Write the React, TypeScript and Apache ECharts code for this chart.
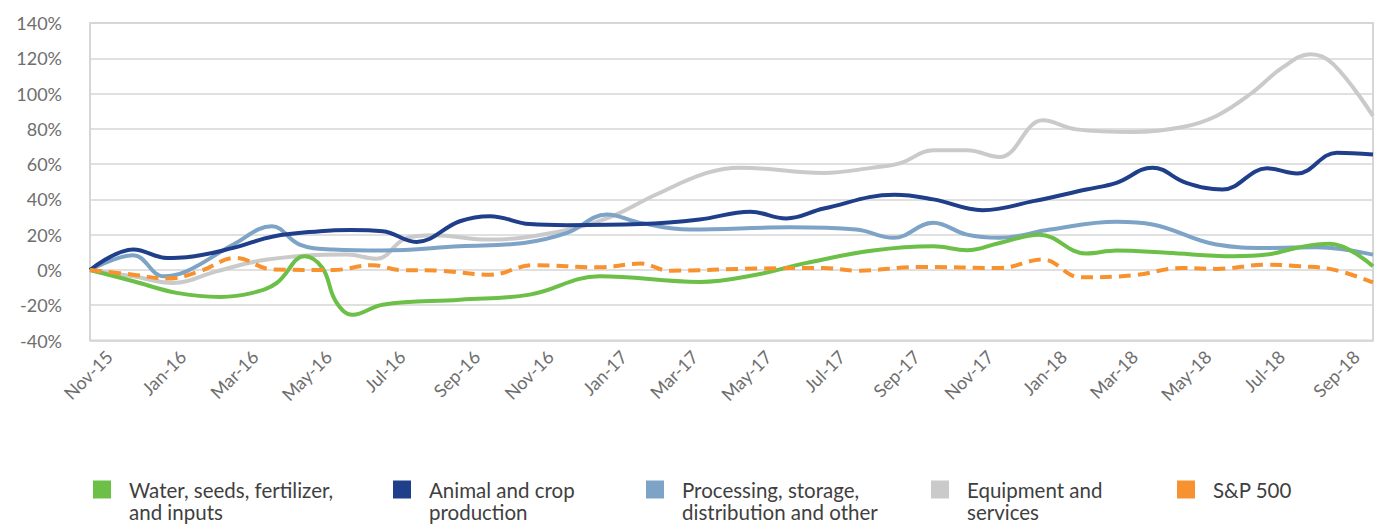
import React, { useEffect, useRef } from "react";
import * as echarts from "echarts";

// Cumulative return (%) of agriculture-related stock groups vs the S&P 500
const waterSeeds: [string, number][] = [
  ["2015-10-16", 0], ["2015-11-21", -6.4], ["2015-12-27", -13], ["2016-02-01", -15.3],
  ["2016-02-28", -13], ["2016-03-19", -7.4], ["2016-04-11", 7.8], ["2016-04-26", 1.1],
  ["2016-05-07", -17.8], ["2016-05-21", -25.4], ["2016-06-15", -19.7], ["2016-08-18", -16.9],
  ["2016-10-15", -14], ["2016-12-12", -3.6], ["2017-03-05", -6.8], ["2017-04-21", -2.7],
  ["2017-06-02", 4], ["2017-07-27", 11], ["2017-09-15", 13.4], ["2017-10-13", 11.2],
  ["2017-11-09", 15.3], ["2017-12-12", 20], ["2018-01-20", 9.3], ["2018-02-14", 11],
  ["2018-03-28", 9.7], ["2018-05-22", 7.8], ["2018-06-19", 8.7], ["2018-07-16", 12.9],
  ["2018-08-10", 14.8], ["2018-09-15", 2.1],
];

const animalCrop: [string, number][] = [
  ["2015-10-16", 0], ["2015-11-21", 11.6], ["2015-12-19", 6.8], ["2016-01-04", 7.2],
  ["2016-02-12", 12.5], ["2016-03-16", 19], ["2016-04-24", 22], ["2016-05-19", 22.7],
  ["2016-06-15", 22], ["2016-07-13", 15.9], ["2016-08-18", 27.6], ["2016-09-12", 30.5],
  ["2016-10-15", 26], ["2016-11-15", 25.4], ["2017-01-15", 26], ["2017-03-05", 28.6],
  ["2017-04-16", 33], ["2017-05-16", 29.2], ["2017-06-16", 34.8], ["2017-08-14", 42.6],
  ["2017-09-15", 40], ["2017-10-26", 33.9], ["2017-12-07", 39], ["2018-01-20", 45.6],
  ["2018-02-14", 49.4], ["2018-03-16", 58], ["2018-04-13", 49.4], ["2018-05-13", 45.6],
  ["2018-06-19", 57.6], ["2018-07-14", 54.7], ["2018-08-16", 66.5], ["2018-09-15", 65.5],
];

const processing: [string, number][] = [
  ["2015-10-16", 0], ["2015-11-21", 8.3], ["2015-12-16", -3.6], ["2016-01-04", -0.8],
  ["2016-02-12", 14.4], ["2016-03-15", 24.8], ["2016-04-07", 14.4], ["2016-05-05", 11.6],
  ["2016-06-15", 11], ["2016-08-18", 13.4], ["2016-10-10", 15.3], ["2016-11-15", 21],
  ["2016-12-18", 31.4], ["2017-01-15", 26.7], ["2017-02-25", 22.9], ["2017-05-19", 24.2],
  ["2017-07-13", 22.9], ["2017-08-13", 18.2], ["2017-09-15", 26.7], ["2017-10-13", 20],
  ["2017-11-09", 18.2], ["2017-12-21", 22.9], ["2018-02-14", 27.3], ["2018-03-16", 25.8],
  ["2018-05-08", 14.4], ["2018-06-19", 12.5], ["2018-07-30", 12.9], ["2018-09-15", 8.7],
];

const equipment: [string, number][] = [
  ["2015-10-16", 0], ["2015-11-21", -3.6], ["2015-12-24", -7.4], ["2016-01-29", -0.8],
  ["2016-03-11", 5.9], ["2016-05-16", 8.7], ["2016-06-10", 6.3], ["2016-07-05", 18.2],
  ["2016-07-27", 19.7], ["2016-09-12", 17.2], ["2016-11-06", 21.4], ["2016-12-18", 29.2],
  ["2017-01-28", 42.8], ["2017-03-11", 55], ["2017-04-08", 58], ["2017-06-16", 55],
  ["2017-07-27", 58], ["2017-08-18", 60.4], ["2017-09-15", 67.8], ["2017-10-13", 67.8],
  ["2017-11-09", 64], ["2017-12-15", 84.8], ["2018-01-12", 79.7], ["2018-02-28", 78.2],
  ["2018-04-10", 81], ["2018-05-08", 87.3], ["2018-06-05", 99.6], ["2018-07-02", 114.8],
  ["2018-07-25", 122.3], ["2018-08-13", 116.7], ["2018-09-15", 87.3],
];

const sp500: [string, number][] = [
  ["2015-10-16", 0], ["2015-11-21", -2.7], ["2015-12-19", -4.9], ["2016-01-15", -0.8],
  ["2016-02-14", 6.8], ["2016-03-16", 0.2], ["2016-05-05", 0], ["2016-06-07", 2.7],
  ["2016-06-29", 0], ["2016-08-01", -0.4], ["2016-09-12", -2.7], ["2016-10-18", 2.7],
  ["2016-12-12", 1.5], ["2017-01-15", 3.6], ["2017-02-08", -0.4], ["2017-04-21", 0.8],
  ["2017-06-16", 1.1], ["2017-07-13", -0.4], ["2017-09-04", 1.7], ["2017-11-09", 1.1],
  ["2017-12-15", 5.9], ["2018-01-15", -4.2], ["2018-02-28", -3], ["2018-04-10", 1.1],
  ["2018-05-08", 0.6], ["2018-06-19", 3], ["2018-07-16", 2.1], ["2018-08-13", 0.2],
  ["2018-09-15", -7],
];

// Date range of the x axis and its bi-monthly labelled dates
const xStart = "2015-10-16";
const xEnd = "2018-09-15";
const xTickDates: string[] = [
  "2015-11-01", "2016-01-01", "2016-03-01", "2016-05-01", "2016-07-01", "2016-09-01",
  "2016-11-01", "2017-01-01", "2017-03-01", "2017-05-01", "2017-07-01", "2017-09-01",
  "2017-11-01", "2018-01-01", "2018-03-01", "2018-05-01", "2018-07-01", "2018-09-01",
];
const monthNames = ["Jan", "Feb", "Mar", "Apr", "May", "Jun", "Jul", "Aug", "Sep", "Oct", "Nov", "Dec"];

const seriesNames = [
  "Water, seeds, fertilizer,\nand inputs",
  "Animal and crop\nproduction",
  "Processing, storage,\ndistribution and other",
  "Equipment and\nservices",
  "S&P 500",
];
const seriesColors = ["#6cbf47", "#1f3f8a", "#7da3c7", "#cacaca", "#f7922e"];
const legendLeft = [93, 393, 646, 931, 1177];

const FONT = "Lato";
const LEGEND_LINE = 22.5;
const LEGEND_ICON = 18;
const LEGEND_ICON_TOP = 480.5;

const toTime = (s: string) => Date.parse(s + "T00:00:00Z");

export default function App() {
  const ref = useRef<HTMLDivElement>(null);

  useEffect(() => {
    if (!ref.current) return;
    const chart = echarts.init(ref.current, null, { renderer: "svg" });

    const values = [waterSeeds, animalCrop, processing, equipment, sp500];
    // draw order: equipment underneath, S&P 500 on top
    const drawOrder = [3, 2, 1, 0, 4];

    const series = drawOrder.map((i, k) => ({
      name: seriesNames[i],
      type: "line",
      data: values[i].map(([d, v]) => [toTime(d), v]),
      smooth: 0.4,
      showSymbol: false,
      symbol: "none",
      color: seriesColors[i],
      lineStyle: {
        width: 4,
        color: seriesColors[i],
        type: i === 4 ? [12, 7] : "solid",
        cap: "butt",
      },
      z: 2 + k,
    }));

    // one legend per item so each swatch sits in its own column;
    // two-line labels get an empty leading line so their first line is
    // vertically centred on the swatch
    const legends = seriesNames.map((name, i) => {
      const twoLines = name.includes("\n");
      const blockLines = twoLines ? 3 : 1;
      const overhang = (blockLines * LEGEND_LINE) / 2 - LEGEND_ICON / 2;
      return {
        data: [name],
        left: legendLeft[i],
        top: LEGEND_ICON_TOP - overhang,
        padding: 0,
        icon: "rect",
        itemWidth: LEGEND_ICON,
        itemHeight: LEGEND_ICON,
        selectedMode: false,
        formatter: (n: string) => (twoLines ? "\n" + n : n),
        textStyle: {
          fontFamily: FONT,
          fontSize: 20.5,
          color: "#3f3f3f",
          lineHeight: LEGEND_LINE,
          padding: [0, 0, 0, 13],
        },
      };
    });

    chart.setOption({
      animation: false,
      backgroundColor: "#ffffff",
      textStyle: { fontFamily: FONT },
      grid: {
        left: 90,
        right: 11,
        top: 23,
        height: 317.5,
        show: true,
        borderColor: "#d6d6d6",
        borderWidth: 2,
      },
      legend: legends,
      xAxis: {
        type: "value",
        min: toTime(xStart),
        max: toTime(xEnd),
        axisLine: { show: false },
        axisTick: { show: false },
        splitLine: { show: false },
        axisLabel: {
          customValues: xTickDates.map(toTime),
          rotate: 45,
          margin: 13,
          fontFamily: FONT,
          fontSize: 18,
          color: "#6e6e6e",
          hideOverlap: false,
          formatter: (v: number) => {
            const d = new Date(v);
            return `${monthNames[d.getUTCMonth()]}-${String(d.getUTCFullYear()).slice(2)}`;
          },
        },
      },
      yAxis: {
        type: "value",
        min: -40,
        max: 140,
        interval: 20,
        axisLine: { show: false },
        axisTick: { show: false },
        splitLine: { lineStyle: { color: "#d6d6d6", width: 1.5 } },
        axisLabel: {
          margin: 28,
          fontFamily: FONT,
          fontSize: 18,
          color: "#6e6e6e",
          formatter: (v: number) => `${v}%`,
        },
      },
      series,
    });

    return () => chart.dispose();
  }, []);

  return (
    <div
      ref={ref}
      style={{ position: "fixed", left: 0, top: 0, width: 1384, height: 525 }}
    />
  );
}
